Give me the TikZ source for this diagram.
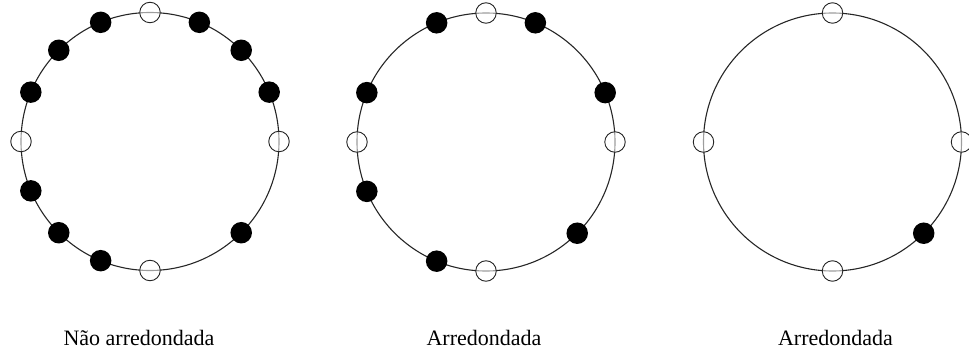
\documentclass[tikz,border=0pt]{standalone}
\usepackage{fontspec}
\setmainfont{Liberation Serif}
\begin{document}
\begin{tikzpicture}[x=1pt,y=-1pt,
  ring/.style={circle, draw=black!85, line width=1.1pt, minimum size=258pt, inner sep=0pt, outer sep=0pt},
  fulldot/.style={circle, fill=black, inner sep=0pt, minimum size=21.5pt},
  opendot/.style={circle, draw=black!85, line width=0.9pt, fill=white, fill opacity=0.55, inner sep=0pt, minimum size=20.5pt},
  lbl/.style={anchor=base, inner sep=0pt, font=\fontsize{22}{24}\selectfont}]
\useasboundingbox (0,0) rectangle (969,358);
\clip (0,0) rectangle (969,358);
% rings
\node[ring] (c1) at (150,141.5) {};
\node[ring] (c2) at (486,142) {};
\node[ring] (c3) at (832.5,142) {};
% open markers on each ring
\foreach \r in {c1,c2,c3}{
  \foreach \a/\n in {0/e,90/n,180/w,270/s}{
    \path (\r.center) ++(-\a:129) node[opendot] (\r-o\n) {};
  }
}
% filled markers, ring 1
\foreach \a [count=\i] in {22.5,45,67.5,112.5,135,157.5,202.5,225,247.5,315}{
  \path (c1.center) ++(-\a:129) node[fulldot] (c1-f\i) {};
}
% filled markers, ring 2
\foreach \a [count=\i] in {22.5,67.5,112.5,157.5,202.5,247.5,315}{
  \path (c2.center) ++(-\a:129) node[fulldot] (c2-f\i) {};
}
% filled marker, ring 3
\path (c3.center) ++(-315:129) node[fulldot] (c3-f1) {};
% labels
\node[lbl] (l1) at (139,345) {Não arredondada};
\node[lbl] (l2) at (484,345) {Arredondada};
\node[lbl] (l3) at (835.5,345) {Arredondada};
\end{tikzpicture}
\end{document}
